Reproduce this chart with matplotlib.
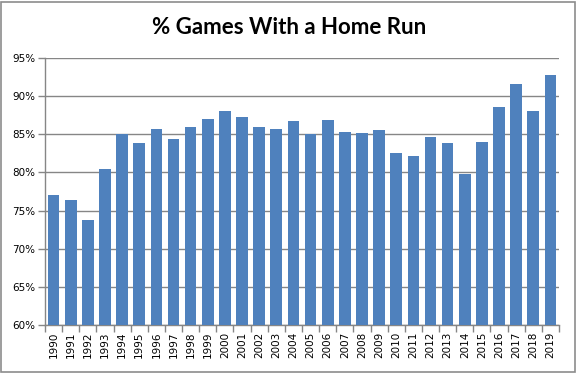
import matplotlib.pyplot as plt
from matplotlib.patches import Rectangle
from matplotlib.ticker import FuncFormatter
import numpy as np

years = list(range(1990, 2020))
pct_games_hr = [77.0, 76.4, 73.8, 80.5, 85.1, 83.9, 85.7, 84.4, 85.9, 87.0,
                88.1, 87.3, 85.9, 85.7, 86.8, 85.0, 86.9, 85.3, 85.2, 85.5,
                82.6, 82.1, 84.6, 83.8, 79.8, 84.0, 88.6, 91.6, 88.0, 92.8]
y_ticks = [60, 65, 70, 75, 80, 85, 90, 95]

bar_color = '#4F81BD'
axis_gray = '#868686'

fig = plt.figure(figsize=(5.78, 3.75), dpi=100)
W, H = 578, 375

# chart area border (Excel style)
fig.patches.append(Rectangle((1 / W, 1 - 372 / H), 574 / W, 370 / H,
                             transform=fig.transFigure, fill=False,
                             edgecolor='#8c8c8c', linewidth=1.2))

ax = fig.add_axes([45 / W, 1 - 325 / H, (559 - 45) / W, (325 - 58) / H])

x = np.arange(len(years))
ax.bar(x, pct_games_hr, width=0.68, color=bar_color, zorder=3)

ax.set_ylim(60, 95)
ax.set_xlim(-0.5, len(years) - 0.5)
ax.set_yticks(y_ticks)
ax.yaxis.set_major_formatter(FuncFormatter(lambda v, p: f'{int(v)}%'))
ax.grid(axis='y', color=axis_gray, linewidth=1.0, zorder=0)

# category ticks sit between bars
ax.set_xticks(x)
ax.set_xticklabels([str(y) for y in years], rotation=90)
ax.set_xticks(np.arange(-0.5, len(years)), minor=True)
ax.tick_params(axis='x', which='major', length=0, pad=5)
ax.tick_params(axis='x', which='minor', length=5, color=axis_gray, width=1)
ax.tick_params(axis='y', length=5, color=axis_gray, width=1, pad=2)
ax.tick_params(labelsize=7.5)

for side in ['top', 'right']:
    ax.spines[side].set_visible(False)
for side in ['left', 'bottom']:
    ax.spines[side].set_color(axis_gray)
    ax.spines[side].set_linewidth(1.0)

fig.text(0.5, 1 - 28 / H, '% Games With a Home Run', ha='center', va='center',
         fontsize=16, fontweight='bold', family='Lato')

fig.savefig('out.png', dpi=100)
